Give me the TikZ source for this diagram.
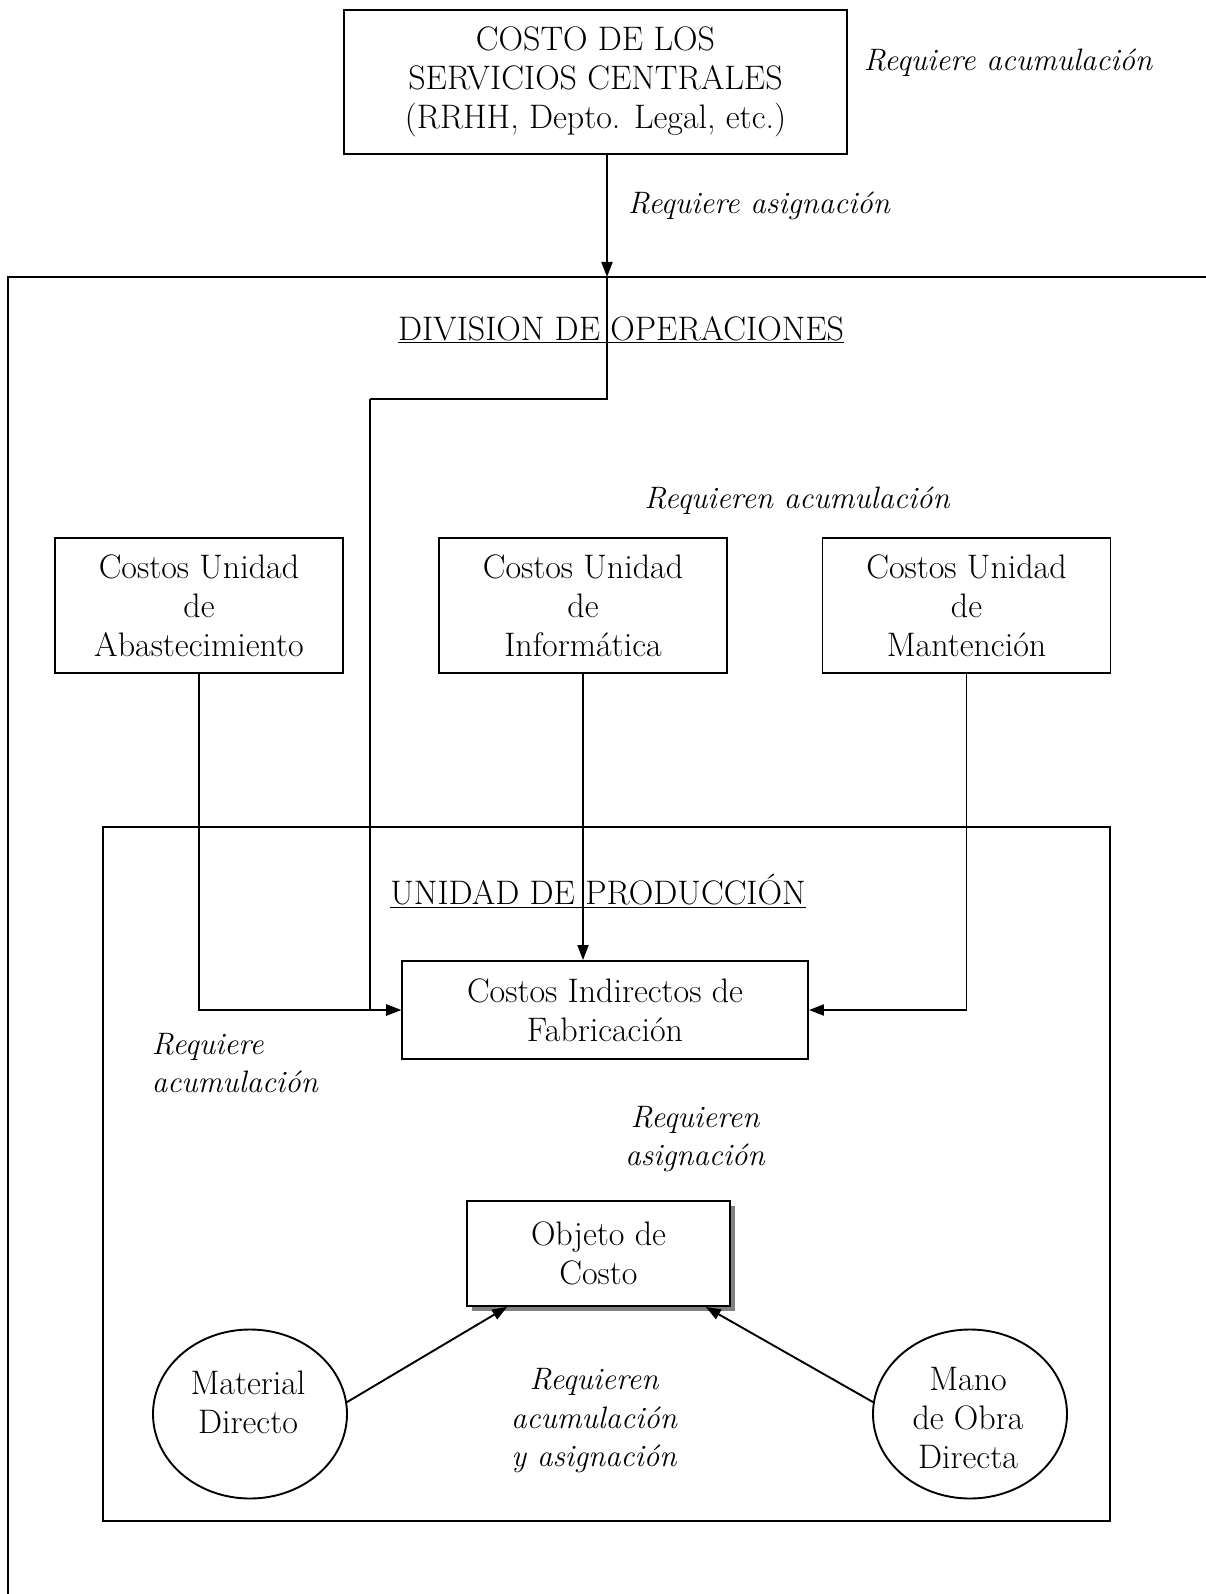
\documentclass[tikz,border=0pt]{standalone}
\usetikzlibrary{arrows.meta,shapes.geometric,shadows,calc}
\begin{document}
\begin{tikzpicture}[x=1pt,y=-1pt,
  line width=1.9pt,
  every node/.style={font=\fontsize{34}{39}\selectfont, align=center, inner sep=0pt},
  lab/.style={font=\fontsize{31}{38.5}\selectfont\itshape},
  box/.style={draw, rectangle, line width=1.9pt},
  circ/.style={draw, ellipse, line width=1.9pt, minimum width=194pt, minimum height=169pt},
  arr/.style={-{Triangle[length=15pt,width=11pt]}}
]
\useasboundingbox (0,0) rectangle (1206,1594);
% outer division frame (open)
\draw (1206,277) -- (8,277) -- (8,1594);
% inner production frame
\draw (103,827) rectangle (1110,1521);

\node[box, minimum width=503pt, minimum height=144pt] (sc) at (595.5,82) {COSTO DE LOS\\SERVICIOS CENTRALES\\(RRHH, Depto. Legal, etc.)};
\node[lab] (l1) at (1008,63) {Requiere acumulación};
\node[lab, anchor=west] (l2) at (627,206) {Requiere asignación};
\node (div) at (621,330) {\underline{DIVISION DE OPERACIONES}};
\node[lab] (l3) at (797,501) {Requieren acumulación};

\node[box, minimum width=288pt, minimum height=135pt] (ab) at (199,605.5) {Costos Unidad\\de\\Abastecimiento};
\node[box, minimum width=288pt, minimum height=135pt] (inf) at (583,605.5) {Costos Unidad\\de\\Informática};
\node[box, minimum width=288pt, minimum height=135pt] (man) at (966.5,605.5) {Costos Unidad\\de\\Mantención};

\node (up) at (598,891) {\underline{UNIDAD DE PRODUCCIÓN}};
\node[box, minimum width=406pt, minimum height=98pt] (cif) at (605,1010) {Costos Indirectos de\\Fabricación};
\node[lab, anchor=west, align=left] (l4) at (151,1063) {Requiere\\acumulación};
\node[lab] (l5) at (695,1139) {Requieren\\asignación};

\node[box, fill=white, minimum width=263pt, minimum height=105pt, drop shadow={shadow xshift=4.5pt, shadow yshift=-4.5pt, fill=black!50, opacity=1}] (obj) at (598.5,1253.5) {Objeto de\\Costo};

\node[circ] (md) at (250,1414) {};
\node (mdt) at (248,1402) {Material\\Directo};
\node[circ] (mo) at (970,1414) {};
\node (mot) at (968,1418) {Mano\\de Obra\\Directa};
\node[lab] (l6) at (594,1421) {Requieren\\acumulación\\y asignación};

% connectors
\coordinate (entry) at (607,277);
\coordinate (b1) at (607,399);
\coordinate (b2) at (370,399);
\draw[arr] (sc.south -| entry) -- (entry);
\draw (entry) -- (b1) -- (b2);
\draw[arr] (b2) |- (cif.west);
\draw[arr] (ab.south) |- (cif.west);
\draw[arr] (inf.south) -- (inf.south |- cif.north);
\draw[arr] (man.south) |- (cif.east);
\draw[arr] (md.7) -- ($(obj.south west)!0.155!(obj.south east)$);
\draw[arr] (mo.173) -- ($(obj.south west)!0.905!(obj.south east)$);
\end{tikzpicture}
\end{document}
